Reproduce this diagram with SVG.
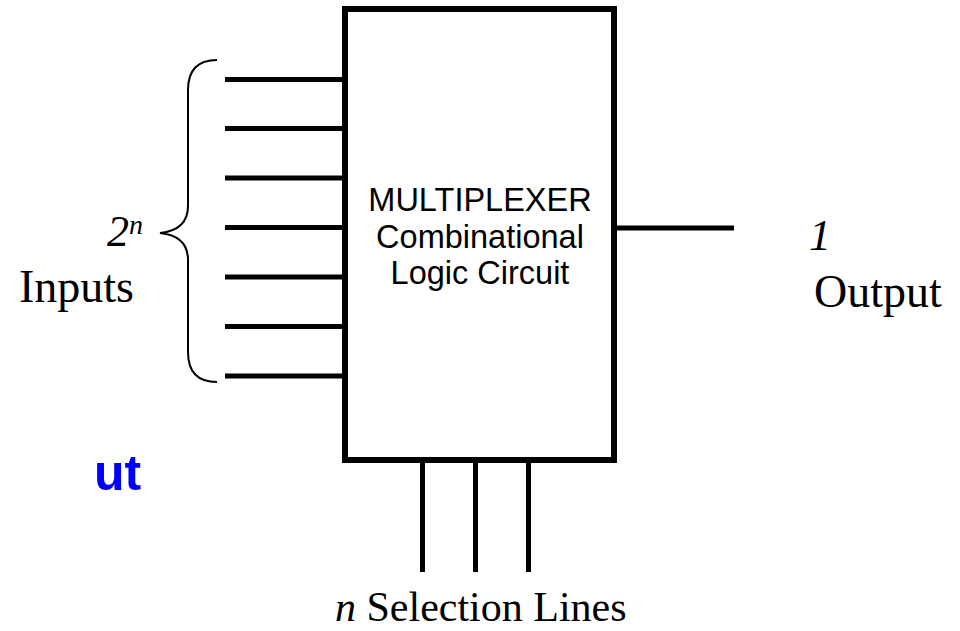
<svg xmlns="http://www.w3.org/2000/svg" width="960" height="631" viewBox="0 0 960 631">
<style>
.wire{stroke:#000;stroke-width:5;fill:none}
.box{stroke:#000;stroke-width:6;fill:#fff}
.brace{stroke:#000;stroke-width:2;fill:none}
.sans{font-family:"Liberation Sans",Arial,sans-serif;font-size:32.5px;fill:#000;text-anchor:middle}
.serif{font-family:"Liberation Serif","Times New Roman",serif;font-size:46px;fill:#000}
.it{font-style:italic}
</style>
<rect width="960" height="631" fill="#fff"/>
<text x="94" y="490" style="font-family:'Liberation Sans',Arial,sans-serif;font-weight:bold;font-size:50px;fill:#0000ff">ut</text>
<g id="connectors">
<line class="wire" x1="225" y1="79.5" x2="345" y2="79.5"/>
<line class="wire" x1="225" y1="128.5" x2="345" y2="128.5"/>
<line class="wire" x1="225" y1="178" x2="345" y2="178"/>
<line class="wire" x1="225" y1="227.5" x2="345" y2="227.5"/>
<line class="wire" x1="225" y1="277" x2="345" y2="277"/>
<line class="wire" x1="225" y1="326.5" x2="345" y2="326.5"/>
<line class="wire" x1="225" y1="376" x2="345" y2="376"/>
<line class="wire" x1="614" y1="228" x2="734" y2="228"/>
<line class="wire" x1="422.5" y1="460" x2="422.5" y2="572"/>
<line class="wire" x1="475.5" y1="460" x2="475.5" y2="572"/>
<line class="wire" x1="528.5" y1="460" x2="528.5" y2="572"/>
</g>
<g id="mux">
<rect class="box" x="345" y="9" width="269" height="451"/>
<text class="sans" x="480" y="211">MULTIPLEXER</text>
<text class="sans" x="480" y="248">Combinational</text>
<text class="sans" x="480" y="284">Logic Circuit</text>
</g>
<g id="inputs-label">
<path class="brace" d="M217,60 C197,60 188,70 188,90 L188,206 C188,222 179,231 160,233 C179,235 188,244 188,260 L188,352 C188,372 197,382 217,382"/>
<text class="serif it" x="107" y="246" style="font-size:44px">2<tspan style="font-size:28px" dy="-12">n</tspan></text>
<text class="serif" x="19" y="302">Inputs</text>
</g>
<g id="output-label">
<text class="serif it" x="809" y="250" style="font-size:44px">1</text>
<text class="serif" x="814" y="307">Output</text>
</g>
<g id="selection-label">
<text class="serif" x="335" y="621" style="font-size:42px"><tspan class="it">n</tspan> Selection Lines</text>
</g>
</svg>
